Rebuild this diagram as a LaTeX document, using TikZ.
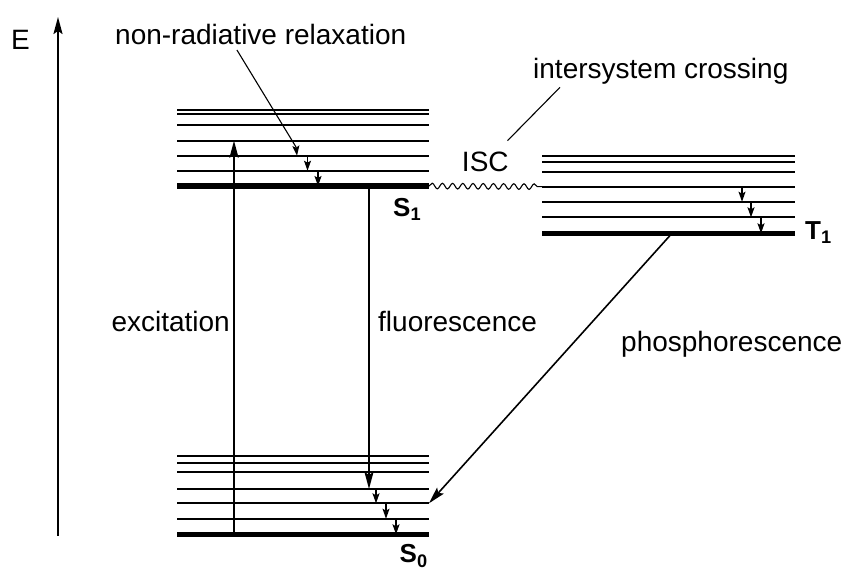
\documentclass[tikz,border=0pt]{standalone}
\usepackage{fontspec}
\setmainfont{Liberation Sans}
\usetikzlibrary{arrows.meta,decorations.pathmorphing}

\begin{document}
\begin{tikzpicture}[x=1pt,y=1pt,
	vib/.style={line width=1.9pt},
	vibzero/.style={line width=5.5pt},
	transit/.style={line width=1.6pt,-{Stealth[length=17pt,width=9pt,inset=3pt]}},
	drop/.style={line width=1.3pt,-{Stealth[length=10pt,width=7pt,inset=2pt]}},
	pointer/.style={line width=1.1pt},
	lbl/.style={inner sep=0pt,font=\fontsize{28}{34}\selectfont},
	state/.style={inner sep=0pt,font=\fontsize{26}{31}\selectfont\bfseries}]
	\useasboundingbox (0,0) rectangle (844,570);
	% energy axis
	\coordinate (Ebot) at (58,34);
	\coordinate (Etop) at (58,553);
	\draw[transit,line width=1.9pt] (Ebot)--(Etop);
	\draw (11,520) node[lbl,anchor=base west] (E) {E};
	% S1
	\draw[vibzero] (177,384) coordinate (S1-0)--++(252,0);
	\draw[vib] (177,399.3) coordinate (S1-1)--++(252,0);
	\draw[vib] (177,414.3) coordinate (S1-2)--++(252,0);
	\draw[vib] (177,429.3) coordinate (S1-3)--++(252,0);
	\draw[vib] (177,445) coordinate (S1-4)--++(252,0);
	\draw[vib] (177,455.7) coordinate (S1-5)--++(252,0);
	\draw[vib] (177,460.3) coordinate (S1-6)--++(252,0);
	\draw (393,353.3) node[state,anchor=base west] (S1) {S\textsubscript{1}};
	% S0
	\draw[vibzero] (177,35.7) coordinate (S0-0)--++(252,0);
	\draw[vib] (177,51.3) coordinate (S0-1)--++(252,0);
	\draw[vib] (177,66.7) coordinate (S0-2)--++(252,0);
	\draw[vib] (177,81) coordinate (S0-3)--++(252,0);
	\draw[vib] (177,97.7) coordinate (S0-4)--++(252,0);
	\draw[vib] (177,107.3) coordinate (S0-5)--++(252,0);
	\draw[vib] (177,114) coordinate (S0-6)--++(252,0);
	\draw (399.5,7) node[state,anchor=base west] (S0) {S\textsubscript{0}};
	% T1
	\draw[vibzero] (542,336.7) coordinate (T1-0)--++(253,0);
	\draw[vib] (542,352.7) coordinate (T1-1)--++(253,0);
	\draw[vib] (542,368.3) coordinate (T1-2)--++(253,0);
	\draw[vib] (542,383.3) coordinate (T1-3)--++(253,0);
	\draw[vib] (542,398.3) coordinate (T1-4)--++(253,0);
	\draw[vib] (542,408.3) coordinate (T1-5)--++(253,0);
	\draw[vib] (542,414.3) coordinate (T1-6)--++(253,0);
	\draw (805,330) node[state,anchor=base west] (T1) {T\textsubscript{1}};
	% transitions
	\draw[transit] ([xshift=57]S0-0)--([xshift=57]S1-3);
	\draw[transit] ([xshift=192]S1-0)--([xshift=192]S0-3);
	\draw[transit] ([xshift=130]T1-0)--([xshift=252]S0-2);
	\draw[pointer,decorate,decoration={snake,amplitude=2.8pt,segment length=10.2pt}] ([xshift=252]S1-0)--(T1-3);
	% relaxation
	\draw[drop] ([xshift=130.5]S1-2)--([xshift=130.5]S1-1);
	\draw[drop] ([xshift=141]S1-1)--([xshift=141]S1-0);
	\draw[drop] ([xshift=199]S0-3)--([xshift=199]S0-2);
	\draw[drop] ([xshift=209]S0-2)--([xshift=209]S0-1);
	\draw[drop] ([xshift=219]S0-1)--([xshift=219]S0-0);
	\draw[drop] ([xshift=200]T1-3)--([xshift=200]T1-2);
	\draw[drop] ([xshift=209]T1-2)--([xshift=209]T1-1);
	\draw[drop] ([xshift=219]T1-1)--([xshift=219]T1-0);
	% labels
	\draw (230,238.3) node[lbl,anchor=base east] (exc) {excitation};
	\draw (378,238.3) node[lbl,anchor=base west] (flu) {fluorescence};
	\draw (621,218.3) node[lbl,anchor=base west] (pho) {phosphorescence};
	\draw (485.3,398.3) node[lbl,anchor=base] (isc) {ISC};
	\draw (533,491.7) node[lbl,anchor=base west] (iscx) {intersystem crossing};
	\draw (115,525) node[lbl,anchor=base west] (nrr) {non-radiative relaxation};
	\draw[pointer] ([shift={(-1.3,11.3)}]isc.north east)--([shift={(27,-3)}]iscx.south west);
	\draw[pointer,-{Stealth[length=10pt,width=7pt,inset=2pt]}] ([shift={(-23.8,-5)}]nrr.base)--([shift={(119,8.7)}]S1-2)--([xshift=120]S1-2);
\end{tikzpicture}
\end{document}
